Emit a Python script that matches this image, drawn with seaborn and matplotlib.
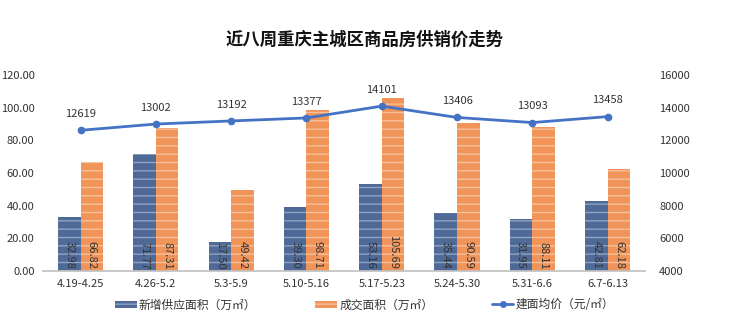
import matplotlib
matplotlib.use("Agg")
import matplotlib.pyplot as plt
import seaborn as sns
import pandas as pd
import numpy as np
from matplotlib.patches import Patch
from matplotlib.lines import Line2D

weeks = ["4.19-4.25", "4.26-5.2", "5.3-5.9", "5.10-5.16", "5.17-5.23", "5.24-5.30", "5.31-6.6", "6.7-6.13"]
supply = [32.98, 71.77, 17.50, 39.30, 53.16, 35.44, 31.95, 42.81]
sales = [66.82, 87.31, 49.42, 98.71, 105.69, 90.59, 88.11, 62.18]
price = [12619, 13002, 13192, 13377, 14101, 13406, 13093, 13458]
series_names = ["新增供应面积（万㎡）", "成交面积（万㎡）", "建面均价（元/㎡）"]
title = "近八周重庆主城区商品房供销价走势"

sns.set_theme(style="white")
plt.rcParams['font.family'] = ['Noto Sans CJK SC', 'DejaVu Sans']
plt.rcParams['hatch.linewidth'] = 1.0

blue = "#4F6A97"
blue_h = "#8FA3C2"
orange = "#F0945A"
orange_h = "#F7C19B"
line_c = "#4472C4"
text_c = "#333333"

df = pd.DataFrame({
    "week": weeks * 2,
    "value": supply + sales,
    "series": [series_names[0]] * len(weeks) + [series_names[1]] * len(weeks),
})

fig = plt.figure(figsize=(7.4, 3.34), dpi=100)
ax = fig.add_axes([0.058, 0.189, 0.814, 0.586])
sns.barplot(data=df, x="week", y="value", hue="series", ax=ax,
            palette=[blue, orange], width=0.6, legend=False, saturation=1)

for container, fc, hc in zip(ax.containers, [blue, orange], [blue_h, orange_h]):
    for bar in container:
        bar.set_facecolor(fc)
        bar.set_edgecolor(hc)
        bar.set_linewidth(0)
        bar.set_hatch("--")
    labels = [f"{v:.2f}" for v in container.datavalues]
    for bar, lab in zip(container, labels):
        ax.text(bar.get_x() + bar.get_width() / 2, 1.0, lab, rotation=270,
                ha="center", va="bottom", fontsize=8, color=text_c)

ax.set_ylim(0, 120)
ax.set_yticks(np.arange(0, 121, 20))
ax.set_yticklabels([f"{v:.2f}" for v in np.arange(0, 121, 20)], fontsize=8, color=text_c)
ax.set_xlabel("")
ax.set_ylabel("")
for s in ["top", "right", "left"]:
    ax.spines[s].set_visible(False)
ax.spines["bottom"].set_color("#BFBFBF")
ax.spines["bottom"].set_linewidth(1.2)
ax.tick_params(axis="x", labelsize=8, colors=text_c, length=0, pad=6)
ax.tick_params(axis="y", length=0, pad=6)

ax2 = ax.twinx()
sns.pointplot(x=weeks, y=price, ax=ax2, color=line_c, markers="o",
              markersize=4, linewidth=2)
for i, p in enumerate(price):
    ax2.annotate(str(p), (i, p), xytext=(0, 8), textcoords="offset points",
                 ha="center", va="bottom", fontsize=8, color=text_c)
ax2.set_ylim(4000, 16000)
ax2.set_yticks(np.arange(4000, 16001, 2000))
ax2.set_yticklabels([str(v) for v in np.arange(4000, 16001, 2000)], fontsize=8, color=text_c)
ax2.tick_params(axis="y", length=0, pad=10)
for s in ["top", "right", "left", "bottom"]:
    ax2.spines[s].set_visible(False)
ax.set_xlim(-0.5, len(weeks) - 0.5)
ax2.set_xlim(-0.5, len(weeks) - 0.5)

fig.text(0.493, 0.88, title, ha="center", va="center", fontsize=12.5,
         fontweight="bold", color="#111111")

handles = [
    Patch(facecolor=blue, edgecolor=blue_h, hatch="--", linewidth=0),
    Patch(facecolor=orange, edgecolor=orange_h, hatch="--", linewidth=0),
    Line2D([0], [0], color=line_c, lw=2, marker="o", markersize=4),
]
fig.legend(handles, series_names, loc="center", bbox_to_anchor=(0.493, 0.087),
           ncol=3, frameon=False, fontsize=8.5, handlelength=1.8,
           handleheight=0.6, columnspacing=5, handletextpad=0.2,
           labelcolor=text_c)

fig.savefig("out.png", dpi=100)
